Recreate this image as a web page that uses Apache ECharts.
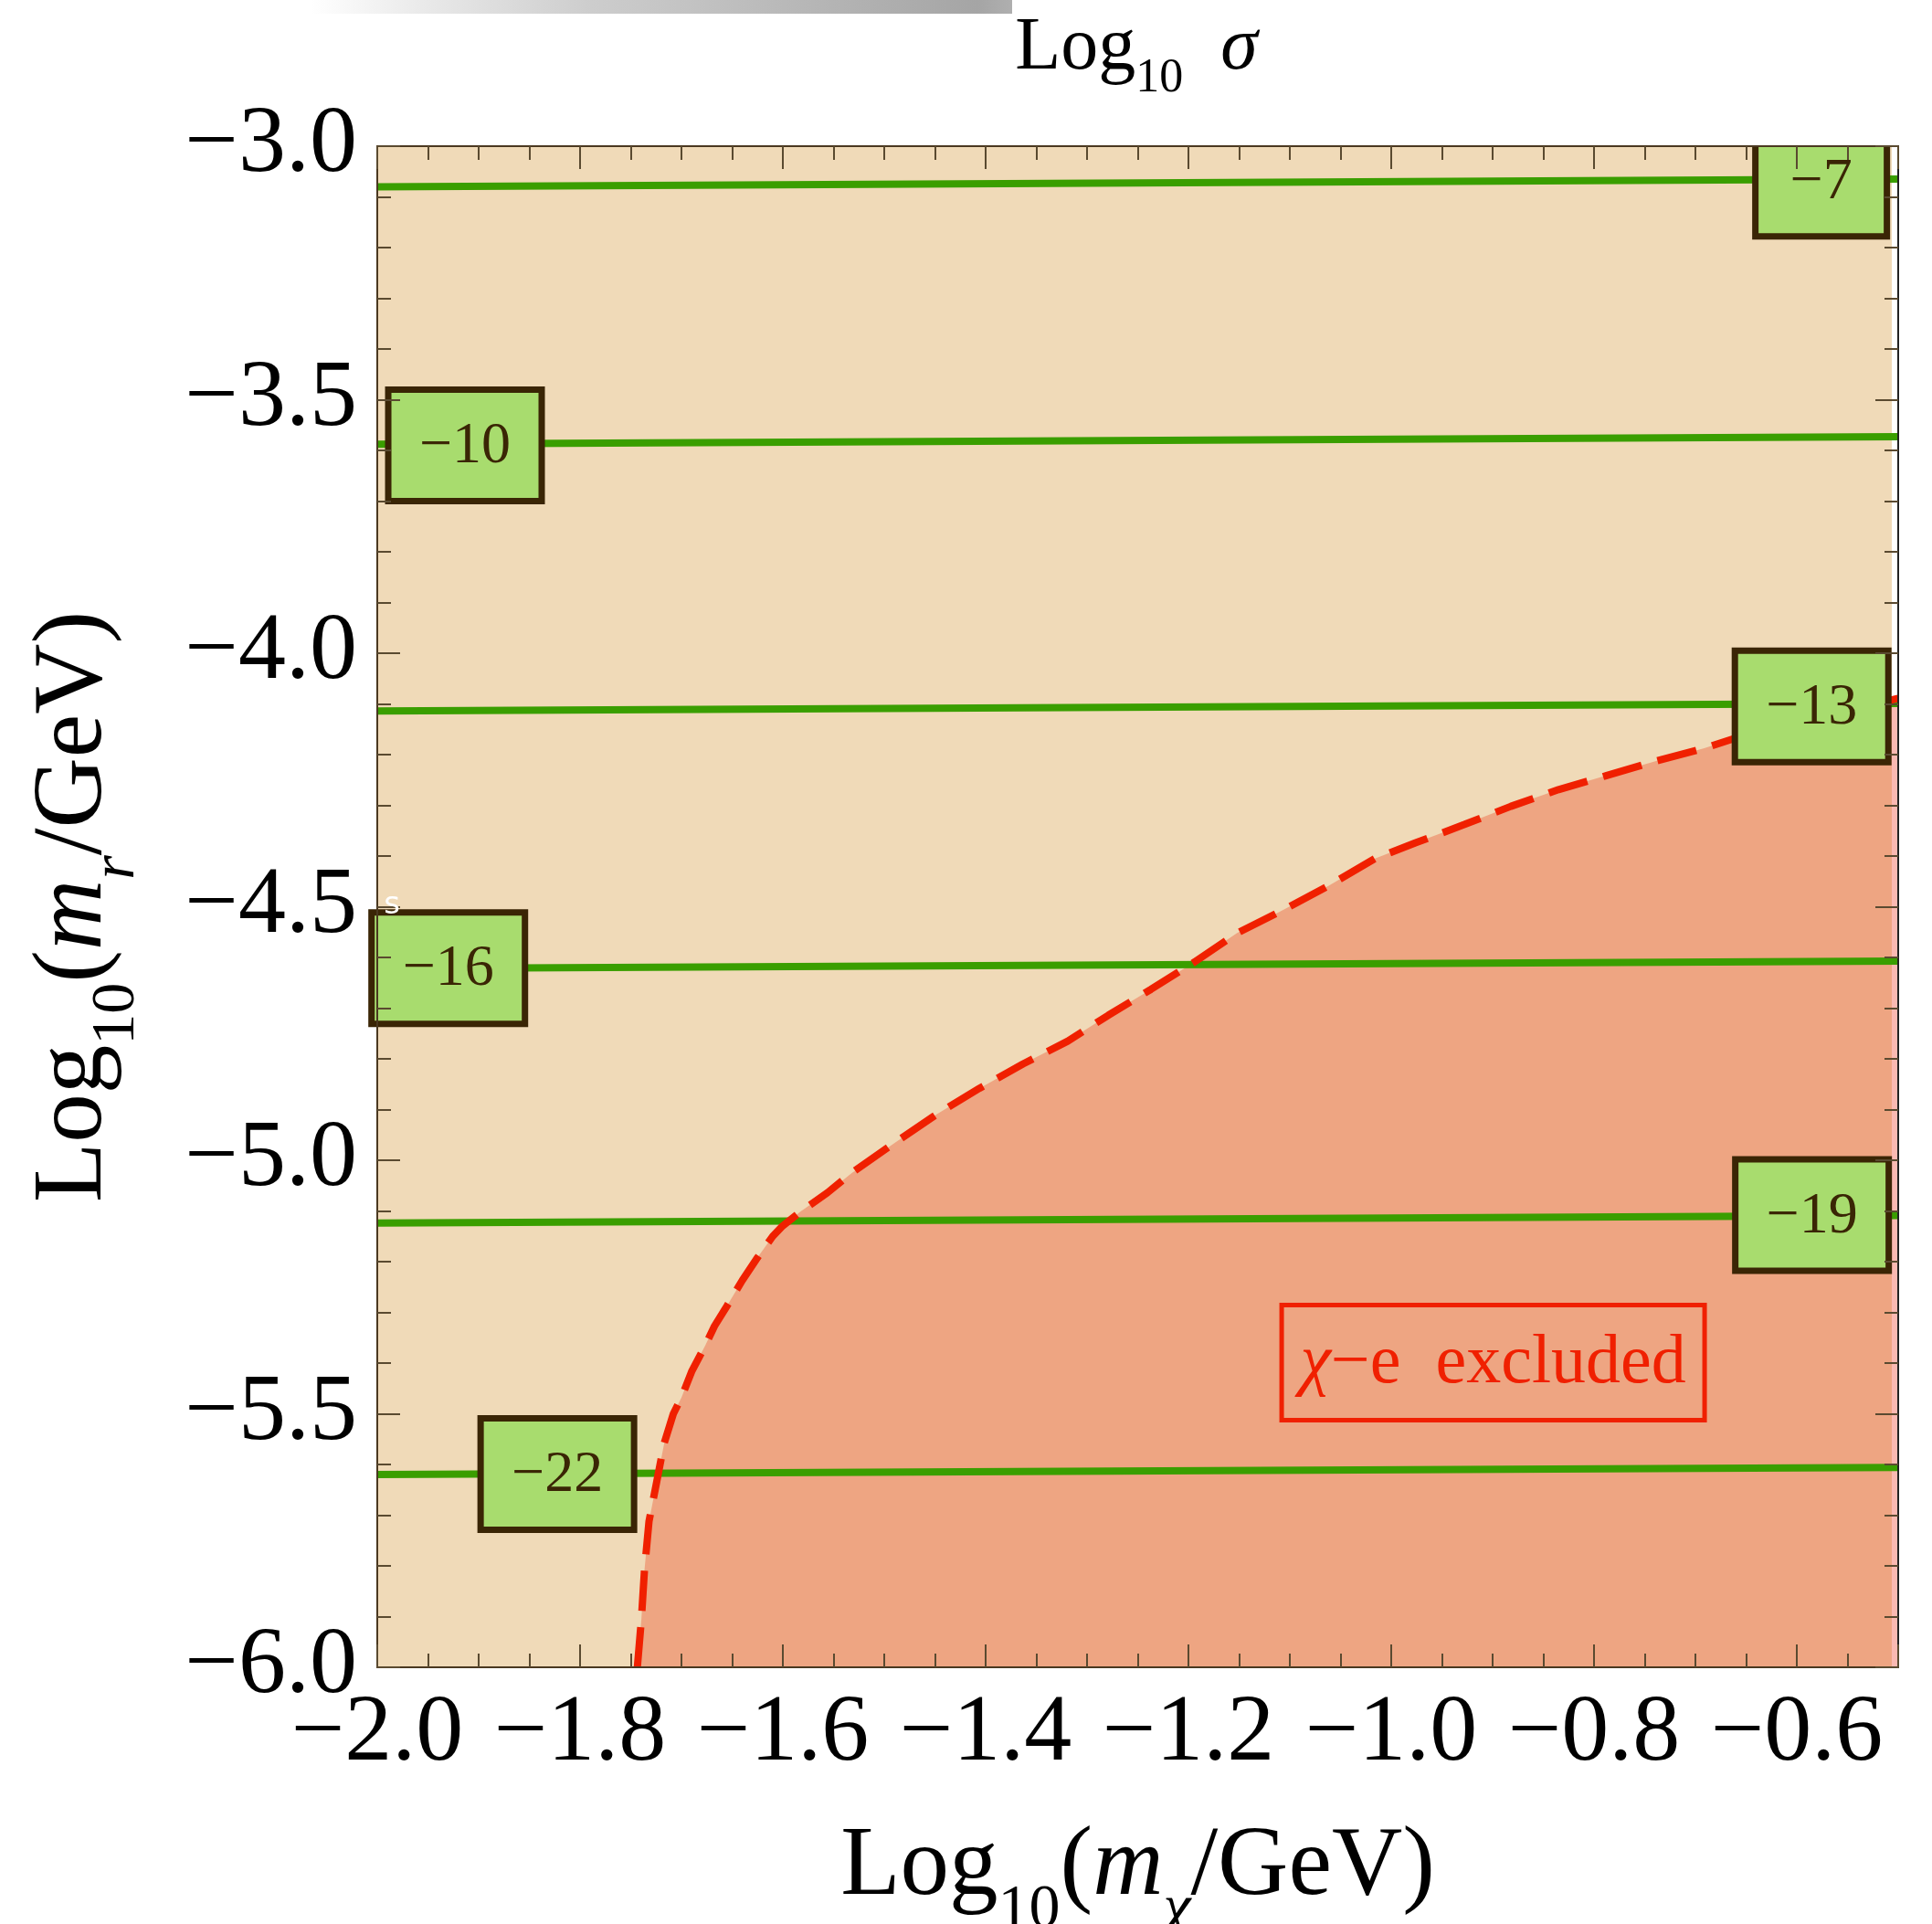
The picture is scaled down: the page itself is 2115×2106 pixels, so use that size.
<!DOCTYPE html>
<html>
<head>
<meta charset="utf-8">
<script src="https://cdn.jsdelivr.net/npm/echarts@6/dist/echarts.min.js"></script>
<style>
html, body { margin: 0; padding: 0; background: #fff; }
#main { width: 2115px; height: 2106px; }
</style>
</head>
<body>
<div id="main"></div>
<script>
var chartDom = document.getElementById('main');
var myChart = echarts.init(chartDom);
var option;

const SERIF = '"Liberation Serif", "DejaVu Serif", serif';
const BEIGE = '#f0dab8';
const SALMON = '#eea582';
const STRIP_PINK = '#fab9b2';
const GREEN = '#3a9e00';
const BOX_FILL = '#a8dc6e';
const BOX_EDGE = '#3a2505';
const RED = '#f02000';
const FRAME = '#4a3820';
const TICK = '#5a4a30';

// axis ranges
const xRange = [-2.0, -0.5];
const yRange = [-6.0, -3.0];
const dataEdgeX = -0.5063;

// Log10 sigma contours: y read at x = -2 and x = -0.5
const contourValues = [-7, -10, -13, -16, -19, -22];
const contourLeftY = [-3.080, -3.588, -4.114, -4.622, -5.124, -5.620];
const contourRightY = [-3.065, -3.573, -4.099, -4.607, -5.109, -5.606];

// contour label boxes (centre)
const labelX = [-0.576, -1.9135, -0.5854, -1.930, -0.585, -1.8224];
const labelY = [-3.068, -3.590, -4.105, -4.621, -5.108, -5.619];

// chi-e exclusion boundary
const boundaryX = [-1.7435, -1.7395, -1.7365, -1.732, -1.7245, -1.717, -1.708, -1.700, -1.690,
  -1.6764, -1.6674, -1.6553, -1.640, -1.625, -1.610, -1.601, -1.583, -1.556, -1.532, -1.490,
  -1.448, -1.406, -1.363, -1.319, -1.279, -1.237, -1.194, -1.152, -1.110, -1.062, -1.016,
  -0.976, -0.928, -0.882, -0.835, -0.789, -0.738, -0.692, -0.660, -0.5];
const boundaryY = [-6.0, -5.905, -5.809, -5.712, -5.635, -5.558, -5.500, -5.468, -5.417,
  -5.365, -5.327, -5.288, -5.237, -5.192, -5.150, -5.131, -5.102, -5.064, -5.025, -4.966,
  -4.909, -4.858, -4.810, -4.765, -4.714, -4.663, -4.609, -4.552, -4.510, -4.459, -4.405,
  -4.374, -4.338, -4.302, -4.269, -4.242, -4.212, -4.188, -4.167, -4.089];

// thin lighter strip at the right edge of the excluded region
const stripX = [-0.5063, -0.5];
const stripY = [-4.092, -4.089];

// annotation
const noteX = -0.8995;
const noteY = -5.399;

function minusFmt(v, digits) {
  return (v < 0 ? '\u2212' : '') + Math.abs(v).toFixed(digits);
}

const boundaryData = boundaryX.map((x, i) => [x, boundaryY[i]]);
const stripData = stripX.map((x, i) => [x, stripY[i]]);

function renderLabelBox(params, api) {
  const c = api.coord([api.value(0), api.value(1)]);
  const text = minusFmt(api.value(2), 0);
  // box grows with the number of digits
  const w = 120 + 24 * (text.length - 1);
  return {
    type: 'group',
    children: [
      {
        type: 'rect',
        shape: { x: c[0] - w / 2, y: c[1] - 61, width: w, height: 122 },
        style: { fill: BOX_FILL, stroke: BOX_EDGE, lineWidth: 7 }
      },
      {
        type: 'text',
        x: c[0],
        y: c[1] + 2,
        style: {
          text: text,
          fontSize: 64,
          fontFamily: SERIF,
          fill: BOX_EDGE,
          align: 'center',
          verticalAlign: 'middle'
        }
      }
    ]
  };
}

const series = [
  {
    name: 'background',
    type: 'custom',
    z: 0,
    silent: true,
    data: [[xRange[0], yRange[1], dataEdgeX, yRange[0]]],
    renderItem: function (params, api) {
      const p0 = api.coord([api.value(0), api.value(1)]);
      const p1 = api.coord([api.value(2), api.value(3)]);
      return {
        type: 'rect',
        shape: { x: p0[0], y: p0[1], width: p1[0] - p0[0], height: p1[1] - p0[1] },
        style: { fill: BEIGE }
      };
    }
  },
  {
    name: 'excluded',
    type: 'line',
    z: 1,
    silent: true,
    showSymbol: false,
    data: boundaryData,
    lineStyle: { width: 0 },
    areaStyle: { color: SALMON, opacity: 1, origin: 'start' }
  },
  {
    name: 'strip',
    type: 'line',
    z: 1.5,
    silent: true,
    showSymbol: false,
    data: stripData,
    lineStyle: { width: 0 },
    areaStyle: { color: STRIP_PINK, opacity: 1, origin: 'start' }
  }
];

contourValues.forEach((v, i) => {
  series.push({
    name: 'sigma ' + v,
    type: 'line',
    z: 3,
    silent: true,
    showSymbol: false,
    data: [[xRange[0], contourLeftY[i]], [xRange[1], contourRightY[i]]],
    lineStyle: { color: GREEN, width: 8 }
  });
});

series.push({
  name: 'boundary',
  type: 'line',
  z: 4,
  silent: true,
  showSymbol: false,
  data: boundaryData,
  lineStyle: { color: RED, width: 8, type: [44, 18], cap: 'butt' }
});

// the top label runs off the frame and gets clipped there
series.push({
  name: 'labels clipped',
  type: 'custom',
  z: 6,
  clip: true,
  silent: true,
  data: [[labelX[0], labelY[0], contourValues[0]]],
  renderItem: renderLabelBox
});
series.push({
  name: 'labels',
  type: 'custom',
  z: 6,
  silent: true,
  data: labelX.slice(1).map((x, i) => [x, labelY[i + 1], contourValues[i + 1]]),
  renderItem: renderLabelBox
});

series.push({
  name: 'note',
  type: 'custom',
  z: 6,
  silent: true,
  data: [[noteX, noteY]],
  renderItem: function (params, api) {
    const c = api.coord([api.value(0), api.value(1)]);
    return {
      type: 'group',
      children: [
        {
          type: 'rect',
          shape: { x: c[0] - 231.5, y: c[1] - 63, width: 463, height: 126 },
          style: { fill: 'none', stroke: RED, lineWidth: 5 }
        },
        {
          type: 'text',
          x: c[0],
          y: c[1] + 2,
          style: {
            text: '{i|\u03c7}\u2212e  excluded',
            fontSize: 76,
            fontFamily: SERIF,
            fill: RED,
            align: 'center',
            verticalAlign: 'middle',
            rich: {
              i: { fontSize: 76, fontFamily: SERIF, fontStyle: 'italic', fill: RED }
            }
          }
        }
      ]
    };
  }
});

const titleRich = {
  r: { fontFamily: SERIF, fontSize: 107, lineHeight: 107, verticalAlign: 'top', color: '#000' },
  i: { fontFamily: SERIF, fontSize: 107, lineHeight: 107, verticalAlign: 'top', fontStyle: 'italic', color: '#000' },
  s: { fontFamily: SERIF, fontSize: 68, lineHeight: 68, verticalAlign: 'top', padding: [66, 0, 0, 0], color: '#000' },
  si: { fontFamily: SERIF, fontSize: 68, lineHeight: 68, verticalAlign: 'top', padding: [66, 0, 0, 0], fontStyle: 'italic', color: '#000' }
};

const tickStyle = { color: TICK, width: 2 };

function frameAxis(extra) {
  return Object.assign({
    type: 'value',
    z: 10,
    axisLine: { show: true, onZero: false, lineStyle: { color: FRAME, width: 2 } },
    axisTick: { show: true, inside: true, length: 25, lineStyle: tickStyle },
    splitLine: { show: false },
    minorSplitLine: { show: false },
    axisLabel: { show: false }
  }, extra);
}

const xLabelStyle = {
  show: true,
  margin: 22,
  fontSize: 104,
  fontFamily: SERIF,
  color: '#000',
  showMaxLabel: false,
  formatter: function (v) {
    if (Math.abs(v * 5 - Math.round(v * 5)) > 1e-6) return '';
    return minusFmt(v, 1);
  }
};

const yLabelStyle = {
  show: true,
  margin: 22,
  fontSize: 104,
  fontFamily: SERIF,
  color: '#000',
  formatter: function (v) { return minusFmt(v, 1); }
};

option = {
  animation: false,
  backgroundColor: '#fff',
  grid: {
    left: 413,
    right: 37,
    top: 160,
    bottom: 281,
    containLabel: false,
    outerBoundsMode: 'none'
  },
  xAxis: [
    frameAxis({
      position: 'bottom',
      min: xRange[0],
      max: xRange[1],
      interval: 0.2,
      minorTick: { show: true, splitNumber: 4, length: 15, lineStyle: tickStyle },
      axisLabel: xLabelStyle,
      name: '{r|Log}{s|10}{r|(}{i|m}{si|\u03c7}{r|/GeV)}',
      nameLocation: 'middle',
      nameGap: 166,
      nameTextStyle: { fontFamily: SERIF, fontSize: 107, color: '#000', rich: titleRich }
    }),
    frameAxis({
      position: 'top',
      min: xRange[0],
      max: xRange[1],
      interval: 0.2,
      minorTick: { show: true, splitNumber: 4, length: 15, lineStyle: tickStyle }
    })
  ],
  yAxis: [
    frameAxis({
      position: 'left',
      min: yRange[0],
      max: yRange[1],
      interval: 0.5,
      minorTick: { show: true, splitNumber: 5, length: 15, lineStyle: tickStyle },
      axisLabel: yLabelStyle,
      name: '{r|Log}{s|10}{r|(}{i|m}{si|r}{r|/GeV)}',
      nameLocation: 'middle',
      nameRotate: 90,
      nameGap: 278,
      nameTextStyle: { fontFamily: SERIF, fontSize: 107, color: '#000', rich: titleRich }
    }),
    frameAxis({
      position: 'right',
      min: yRange[0],
      max: yRange[1],
      interval: 0.5,
      axisLine: { show: true, onZero: false, lineStyle: { color: '#222', width: 2 } },
      minorTick: { show: true, splitNumber: 5, length: 15, lineStyle: tickStyle }
    })
  ],
  graphic: [
    {
      type: 'rect',
      z: 100,
      silent: true,
      shape: { x: 340, y: 0, width: 768, height: 15 },
      style: {
        fill: new echarts.graphic.LinearGradient(0, 0, 1, 0, [
          { offset: 0, color: 'rgba(200,200,200,0)' },
          { offset: 0.4, color: 'rgba(205,205,205,1)' },
          { offset: 0.95, color: 'rgba(165,165,165,1)' },
          { offset: 1, color: 'rgba(175,175,175,1)' }
        ])
      }
    },
    {
      type: 'text',
      z: 100,
      silent: true,
      x: 1244,
      y: 12,
      style: {
        text: '{r|Log}{s|10}{r|  }{i|\u03c3}',
        align: 'center',
        verticalAlign: 'top',
        rich: {
          r: { fontFamily: SERIF, fontSize: 82, lineHeight: 82, verticalAlign: 'top', fill: '#000' },
          i: { fontFamily: SERIF, fontSize: 82, lineHeight: 82, verticalAlign: 'top', fontStyle: 'italic', fill: '#000' },
          s: { fontFamily: SERIF, fontSize: 52, lineHeight: 52, verticalAlign: 'top', padding: [48, 0, 0, 0], fill: '#000' }
        }
      }
    },
    {
      type: 'text',
      z: 100,
      silent: true,
      x: 429,
      y: 991,
      style: {
        text: 's',
        fontSize: 34,
        fontFamily: '"DejaVu Sans", sans-serif',
        fill: '#ffffff',
        align: 'center',
        verticalAlign: 'middle'
      }
    }
  ],
  series: series
};

option && myChart.setOption(option);
</script>
</body>
</html>
